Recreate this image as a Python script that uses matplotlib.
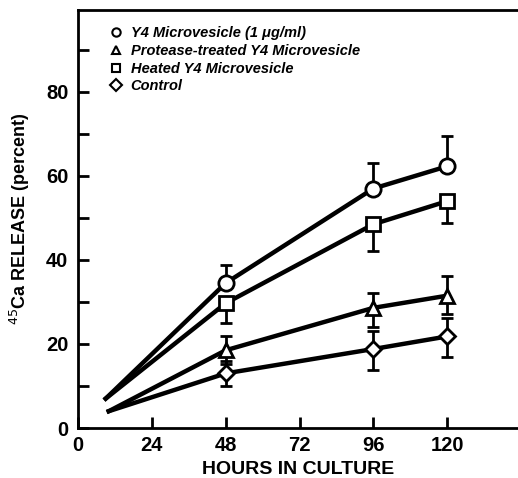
import matplotlib
matplotlib.use('Agg')
import matplotlib.pyplot as plt
from matplotlib.lines import Line2D

plt.rcParams['font.family'] = ['Liberation Sans', 'DejaVu Sans']

# hours in culture (first point has no marker)
hours_a = [9, 48, 96, 120]
hours_b = [10, 48, 96, 120]

# 45Ca release (percent)
y4_micro = [7.0, 34.5, 57.0, 62.3]
protease = [4.0, 18.5, 28.6, 31.5]
heated = [7.0, 29.7, 48.5, 54.0]
control = [4.0, 13.0, 18.8, 21.8]

# error bars (lower, upper); first point none
y4_err = ([0, 0, 0, 0], [0, 4.4, 6.1, 7.2])
protease_err = ([0, 3.2, 4.6, 4.4], [0, 3.3, 3.5, 4.6])
heated_err = ([0, 4.7, 6.3, 5.1], [0, 0, 0, 0])
control_err = ([0, 2.9, 4.9, 4.8], [0, 3.0, 4.4, 4.3])

labels = ['Y4 Microvesicle (1 \u03bcg/ml)', 'Protease-treated Y4 Microvesicle',
          'Heated Y4 Microvesicle', 'Control']

fig = plt.figure(figsize=(5.18, 4.78), dpi=100)
ax = fig.add_axes([78 / 518, 1 - 428 / 478, 1 - 78 / 518, 418 / 478])

series = [
    (hours_a, y4_micro, y4_err, 'o'),
    (hours_b, protease, protease_err, '^'),
    (hours_a, heated, heated_err, 's'),
    (hours_b, control, control_err, 'D'),
]
msizes = {'o': 11, '^': 10.5, 's': 9.5, 'D': 8.5}

for x, y, err, m in series:
    ax.errorbar(x[1:], y[1:], yerr=[err[0][1:], err[1][1:]], fmt='none',
                ecolor='black', elinewidth=2, capsize=4, capthick=2, zorder=2)
    ax.plot(x, y, color='black', lw=3.2, zorder=3)
    ax.plot(x[1:], y[1:], ls='none', marker=m, ms=msizes[m], mfc='white',
            mec='black', mew=2, zorder=4)

ax.set_xlim(0, 143)
ax.set_ylim(0, 99.5)
ax.set_xticks([0, 24, 48, 72, 96, 120])
ax.set_yticks([0, 20, 40, 60, 80])
ax.set_yticks([10, 30, 50, 70, 90], minor=True)
ax.tick_params(axis='both', which='both', direction='in', width=2, labelsize=14.5)
ax.tick_params(axis='y', which='major', length=8, pad=7)
ax.tick_params(axis='y', which='minor', length=8)
ax.tick_params(axis='x', length=8, pad=6)
for lab in ax.get_xticklabels() + ax.get_yticklabels():
    lab.set_fontweight('bold')

for s in ['left', 'bottom', 'top']:
    ax.spines[s].set_linewidth(2)
ax.spines['right'].set_visible(False)

ax.set_xlabel('HOURS IN CULTURE', fontsize=14, fontweight='bold', labelpad=4)
ax.set_ylabel('$^{45}$Ca RELEASE (percent)', fontsize=13, fontweight='bold', labelpad=10)

handles = [Line2D([], [], ls='none', marker=m, ms=6, mfc='white', mec='black', mew=1.5)
           for _, _, _, m in series]
ax.legend(handles, labels, loc='upper left', bbox_to_anchor=(0.05, 0.985), frameon=False,
          prop={'size': 10.5, 'weight': 'bold', 'style': 'italic'},
          handlelength=0.8, handletextpad=0.6, labelspacing=0.25, borderpad=0.2)

fig.savefig('out.png', dpi=100)
